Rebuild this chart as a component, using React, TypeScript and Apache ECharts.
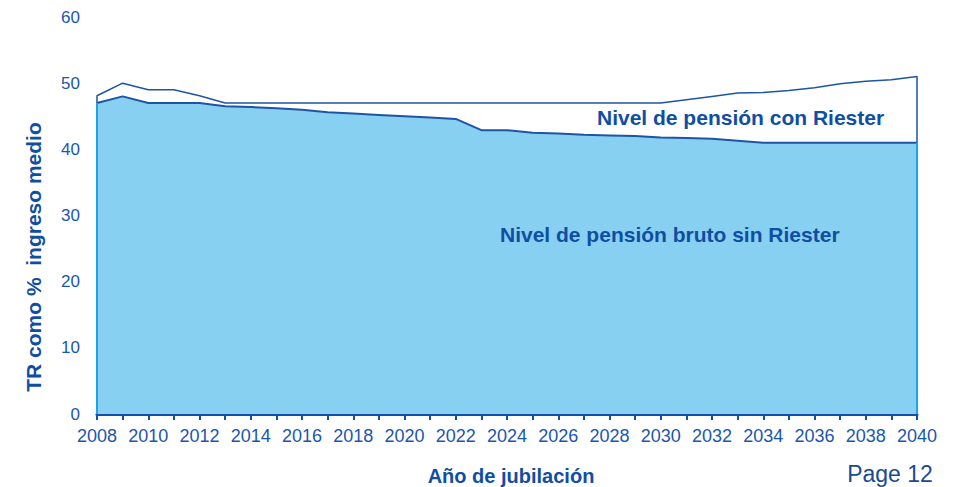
import React, { useEffect, useRef } from "react";
import * as echarts from "echarts";

const years: number[] = [
  2008, 2009, 2010, 2011, 2012, 2013, 2014, 2015, 2016, 2017, 2018, 2019, 2020,
  2021, 2022, 2023, 2024, 2025, 2026, 2027, 2028, 2029, 2030, 2031, 2032, 2033,
  2034, 2035, 2036, 2037, 2038, 2039, 2040,
];
// Nivel de pensión con Riester
const conRiester: number[] = [
  48.1, 50.0, 49.0, 49.0, 48.1, 47.0, 47.0, 47.0, 47.0, 47.0, 47.0, 47.0, 47.0,
  47.0, 47.0, 47.0, 47.0, 47.0, 47.0, 47.0, 47.0, 47.0, 47.0, 47.5, 48.0, 48.5,
  48.6, 48.9, 49.3, 49.9, 50.3, 50.5, 51.0,
];
// Nivel de pensión bruto sin Riester
const sinRiester: number[] = [
  47.0, 48.0, 47.0, 47.0, 47.0, 46.5, 46.4, 46.2, 46.0, 45.6, 45.4, 45.2, 45.0,
  44.8, 44.6, 42.9, 42.9, 42.5, 42.4, 42.2, 42.1, 42.0, 41.8, 41.7, 41.6, 41.3,
  41.0, 41.0, 41.0, 41.0, 41.0, 41.0, 41.0,
];
const yTicks: number[] = [0, 10, 20, 30, 40, 50, 60];

const DARK = "#1d55a6";
const TEXT = "#1a56b0";
const FILL = "#88d0f1";
const EDGE = "#1aa5ea";
const FONT = "Liberation Sans, Arial, sans-serif";

export default function App() {
  const ref = useRef<HTMLDivElement>(null);
  useEffect(() => {
    if (!ref.current) return;
    const chart = echarts.init(ref.current, null, { renderer: "svg" });
    const first = years[0];
    const last = years[years.length - 1];
    const upperData: number[][] = [
      [first, sinRiester[0]],
      ...years.map((y, i) => [y, conRiester[i]]),
      [last, sinRiester[sinRiester.length - 1]],
    ];
    const lowerData: number[][] = years.map((y, i) => [y, sinRiester[i]]);
    chart.setOption({
      animation: false,
      grid: { left: 97, right: 36, top: 17, bottom: 73, containLabel: false },
      xAxis: {
        type: "value",
        min: 2008,
        max: 2040,
        interval: 2,
        axisLine: { show: true, lineStyle: { color: "#1450a8", width: 3 } },
        axisTick: { show: true, length: 6, lineStyle: { color: "#1450a8", width: 2 } },
        minorTick: { show: true, splitNumber: 2, length: 6, lineStyle: { color: "#1450a8", width: 2 } },
        splitLine: { show: false },
        axisLabel: {
          color: TEXT,
          fontSize: 18,
          fontFamily: FONT,
          margin: 13,
          formatter: (v: number) => String(v),
        },
      },
      yAxis: {
        type: "value",
        min: yTicks[0],
        max: yTicks[yTicks.length - 1],
        interval: 10,
        axisLine: { show: false },
        axisTick: { show: false },
        splitLine: { show: false },
        axisLabel: { color: TEXT, fontSize: 17, fontFamily: FONT, margin: 17 },
      },
      series: [
        {
          type: "line",
          data: upperData,
          symbol: "none",
          lineStyle: { color: DARK, width: 1.5 },
          areaStyle: { color: "#ffffff", opacity: 1 },
          z: 1,
        },
        {
          type: "line",
          data: lowerData,
          symbol: "none",
          lineStyle: { color: DARK, width: 2 },
          areaStyle: { color: FILL, opacity: 1 },
          z: 2,
        },
        {
          type: "line",
          data: [
            [first, 0],
            [first, sinRiester[0]],
          ],
          symbol: "none",
          lineStyle: { color: EDGE, width: 2 },
          z: 3,
        },
        {
          type: "line",
          data: [
            [last, 0],
            [last, sinRiester[sinRiester.length - 1]],
          ],
          symbol: "none",
          lineStyle: { color: EDGE, width: 2 },
          z: 3,
        },
      ],
      graphic: [
        {
          type: "text",
          x: 597,
          y: 117,
          z: 10,
          style: {
            text: "Nivel de pensión con Riester",
            fill: "#0f4ea3",
            font: `bold 21px ${FONT}`,
            align: "left",
            verticalAlign: "middle",
          },
        },
        {
          type: "text",
          x: 500,
          y: 234,
          z: 10,
          style: {
            text: "Nivel de pensión bruto sin Riester",
            fill: "#0f4ea3",
            font: `bold 21px ${FONT}`,
            align: "left",
            verticalAlign: "middle",
          },
        },
        {
          type: "text",
          x: 33,
          y: 257,
          rotation: Math.PI / 2,
          z: 10,
          style: {
            text: "TR como %  ingreso medio",
            fill: "#0f4ea3",
            font: `bold 21px ${FONT}`,
            align: "center",
            verticalAlign: "middle",
          },
        },
        {
          type: "text",
          x: 511,
          y: 476,
          z: 10,
          style: {
            text: "Año de jubilación",
            fill: "#0f4ea3",
            font: `bold 20px ${FONT}`,
            align: "center",
            verticalAlign: "middle",
          },
        },
        {
          type: "text",
          x: 890,
          y: 474,
          z: 10,
          style: {
            text: "Page 12",
            fill: "#1a4a90",
            font: `23px ${FONT}`,
            align: "center",
            verticalAlign: "middle",
          },
        },
      ],
    });
    return () => chart.dispose();
  }, []);
  return (
    <div
      ref={ref}
      style={{ position: "fixed", left: 0, top: 0, width: 953, height: 487, background: "#ffffff" }}
    />
  );
}
